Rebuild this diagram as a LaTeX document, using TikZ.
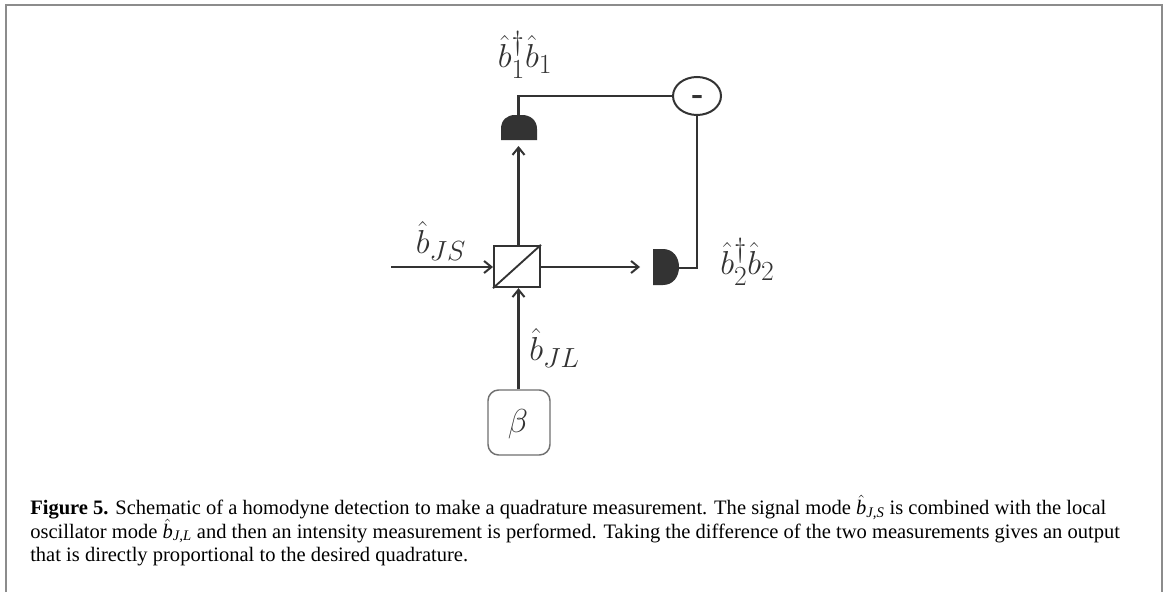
\documentclass[tikz,border=0pt]{standalone}
\usepackage{amsmath}
\usepackage{fontspec}
\setmainfont{Liberation Serif}
\usetikzlibrary{arrows.meta,shapes.geometric}
\definecolor{ink}{HTML}{333333}
\definecolor{framec}{HTML}{8C8C8C}
\newcommand{\capb}[1]{$\hat{\mbox{\textit{b}}}_{\mbox{\fontsize{11}{12}\selectfont\textit{#1}}}$}
\tikzset{
  beam/.style={draw=ink,line width=1.9pt},
  arrowbeam/.style={beam,-{Straight Barb[length=5.5pt,width=9pt,line width=1.5pt]}},
  lab/.style={inner sep=0pt,text=ink,font=\fontsize{29}{31}\selectfont},
  capline/.style={inner sep=0pt,anchor=base west,text=black,font=\fontsize{15.4}{18}\selectfont},
}
\begin{document}
\begin{tikzpicture}[x=0.75pt,y=-0.75pt]
\useasboundingbox (0,0) rectangle (1166,592);
\fill[white] (0,0) rectangle (1166,592);
\draw[framec,line width=1.2pt] (6,592) -- (6,5) -- (1162,5) -- (1162,592);
% nodes
\node[draw=ink,line width=1.5pt,minimum width=34.5pt,minimum height=31pt,inner sep=0pt] (bs) at (517,266.5) {};
\draw[draw=ink,line width=1.4pt] (bs.south west) -- (bs.north east);
\path[fill=ink] (501,140) -- (537,140) -- (537,129) .. controls (537,120) and (530,115) .. (522,115) -- (515,115) .. controls (507,115) and (501,120) .. (501,129) -- cycle;
\coordinate (d1top) at (518.5,115);
\coordinate (d1tip) at (518.5,146);
\path[fill=ink] (653,249) -- (653,285) -- (663,285) .. controls (673,285) and (679,277) .. (679,267) .. controls (679,257) and (673,249) .. (663,249) -- cycle;
\coordinate (d2r) at (679,268);
\node[draw=ink,fill=white,line width=1.5pt,ellipse,minimum width=36pt,minimum height=28.5pt,inner sep=0pt] (sub) at (697,96) {};
\node[inner sep=0pt,text=ink,font=\bfseries\fontsize{27}{27}\selectfont] (minus) at (697,100) {-};
\node[draw=ink!70,rounded corners=8pt,line width=1.1pt,minimum width=46.5pt,minimum height=48.75pt,inner sep=0pt] (lo) at (519,422.5) {};
\node[lab,font=\fontsize{33}{35}\selectfont] (betalab) at (518,424) {$\beta$};
\coordinate (inS) at (391,267);
\coordinate (outR) at (640,267);
\coordinate (elb) at (697,268);
\coordinate (elb1) at (518.5,96);
% connectors
\draw[arrowbeam] (inS) -- (inS -| bs.west);
\draw[arrowbeam] (inS -| bs.east) -- (outR);
\draw[arrowbeam] (bs.north -| d1tip) -- (d1tip);
\draw[arrowbeam] (lo.north -| d1tip) -- (bs.south -| d1tip);
\draw[beam] (d1top) -- (elb1) -- (sub.west);
\draw[beam] (d2r) -- (elb) -- (sub.south);
% labels
\node[lab] (l1) at (525,55) {$\hat{b}_1^\dagger\hat{b}_1$};
\node[lab] (l2) at (441,241) {$\hat{b}_{JS}$};
\node[lab,anchor=west] (l3) at (529,348) {$\hat{b}_{JL}$};
\node[lab,anchor=west] (l4) at (720,262) {$\hat{b}_2^\dagger\hat{b}_2$};
% caption
\node[capline] (c1) at (30,514) {\textbf{Figure 5.} Schematic of a homodyne detection to make a quadrature measurement. The signal mode \capb{J,S} is combined with the local};
\node[capline] (c2) at (30,538) {oscillator mode \capb{J,L} and then an intensity measurement is performed. Taking the difference of the two measurements gives an output};
\node[capline] (c3) at (30,561) {that is directly proportional to the desired quadrature.};
\end{tikzpicture}
\end{document}
